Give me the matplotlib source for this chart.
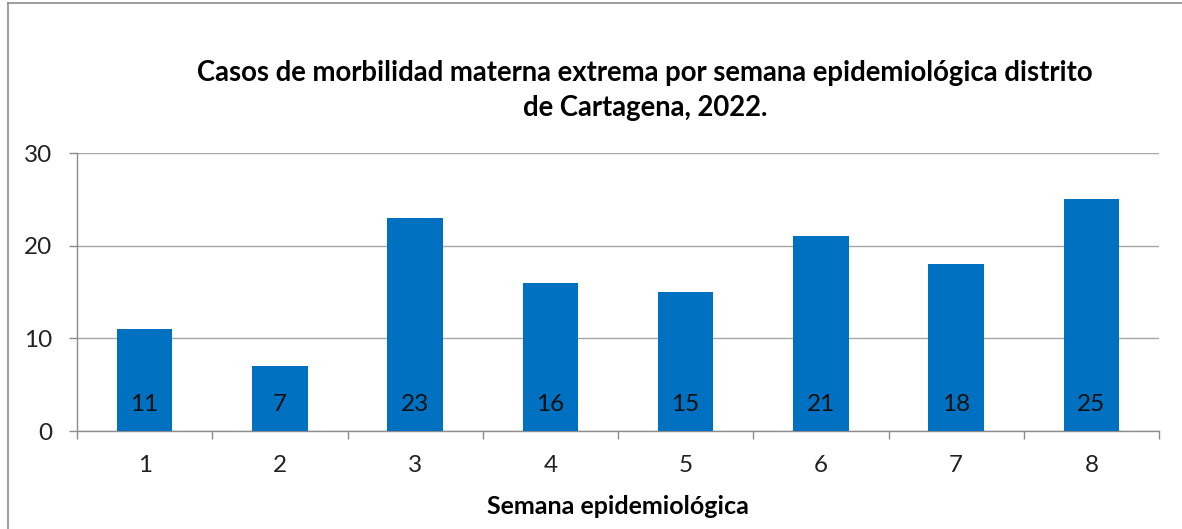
"""Casos de morbilidad materna extrema por semana epidemiologica - Cartagena 2022."""

import matplotlib
matplotlib.use('Agg')
import matplotlib.pyplot as plt
from matplotlib.lines import Line2D
import numpy as np

weeks = ['1', '2', '3', '4', '5', '6', '7', '8']
cases = [11, 7, 23, 16, 15, 21, 18, 25]
y_ticks = [0, 10, 20, 30]

BAR = '#0070C0'
GRID = '#A6A6A6'
AXIS = '#8C8C8C'

plt.rcParams['font.family'] = ['Lato', 'DejaVu Sans']

fig = plt.figure(figsize=(11.82, 5.29), dpi=100)
ax = fig.add_axes([77 / 1182, 1 - 431 / 529, (1159 - 77) / 1182, (431 - 153) / 529])

x = np.arange(len(weeks))
ax.bar(x, cases, width=0.41, color=BAR, zorder=3)
for xi, v in zip(x, cases):
    ax.annotate(str(v), (xi, 0), xytext=(0, 19), textcoords='offset points',
                ha='center', va='center', fontsize=17.5, color='#111111', zorder=4)

ax.set_xlim(-0.5, len(weeks) - 0.5)
ax.set_ylim(0, 30)
ax.set_yticks(y_ticks)
ax.set_xticks(x)
ax.set_xticklabels(weeks)
ax.set_xticks(np.arange(len(weeks) + 1) - 0.5, minor=True)
ax.tick_params(axis='x', which='major', length=0, pad=17, labelsize=17.5, labelcolor='#222222')
ax.tick_params(axis='x', which='minor', length=6, width=1, color=AXIS)
ax.tick_params(axis='y', length=6, width=1, color=AXIS, pad=12, labelsize=17.5, labelcolor='#222222')

ax.grid(axis='y', color=GRID, linewidth=1, zorder=0)
for s in ['top', 'right']:
    ax.spines[s].set_visible(False)
for s in ['left', 'bottom']:
    ax.spines[s].set_color(AXIS)
    ax.spines[s].set_linewidth(1)

fig.text(0.5457, 1 - 73 / 529, 'Casos de morbilidad materna extrema por semana epidemiológica distrito',
         ha='center', va='center', fontsize=19.8, fontweight='bold')
fig.text(0.5457, 1 - 108 / 529, 'de Cartagena, 2022.',
         ha='center', va='center', fontsize=19.8, fontweight='bold')
fig.text(0.5225, 1 - 507 / 529, 'Semana epidemiológica', ha='center', va='center',
         fontsize=18, fontweight='bold')

# outer frame of the chart area (top and left edges visible)
fig.add_artist(Line2D([8 / 1182, 1], [1 - 3 / 529, 1 - 3 / 529], color=AXIS, linewidth=1.2))
fig.add_artist(Line2D([8 / 1182, 8 / 1182], [0, 1 - 3 / 529], color=AXIS, linewidth=1.2))

fig.savefig('out.png', dpi=100)
